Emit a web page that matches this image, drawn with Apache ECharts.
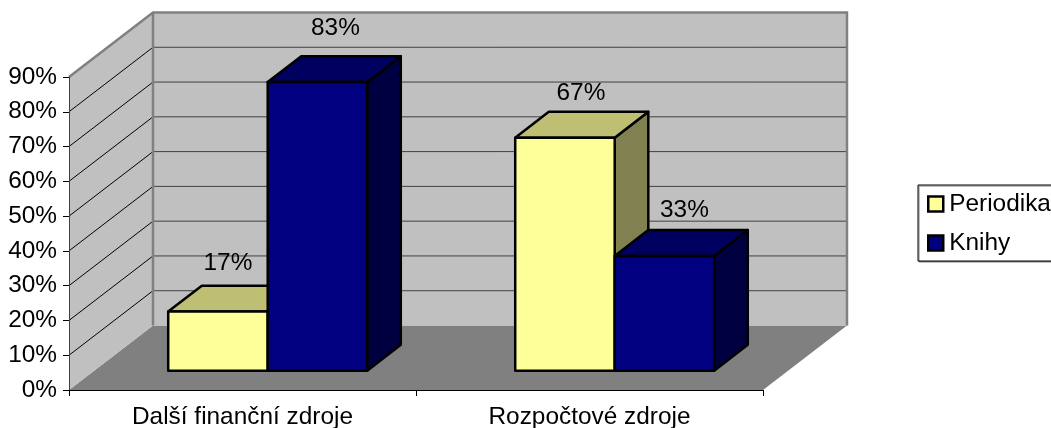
<!DOCTYPE html>
<html>
<head>
<meta charset="utf-8">
<style>
html,body{margin:0;padding:0;background:#fff;}
#chart{width:1051px;height:428px;}
</style>
</head>
<body>
<div id="chart"></div>
<script src="https://cdn.jsdelivr.net/npm/echarts@6/dist/echarts.min.js"></script>
<script>
var categories = ['Další finanční zdroje', 'Rozpočtové zdroje'];
var periodika = [17, 67];
var knihy = [83, 33];
var gridTicks = [10, 20, 30, 40, 50, 60, 70, 80];
var axisMax = 90;

// label nudges, [dx, dy] from the front top centre of a bar
var periodikaLabelShift = [[10, -48], [16, -44]];
var knihyLabelShift = [[18, -54], [20, -46]];

// fake 3d: how far the back wall sits from the front plane
var depthX = 84, depthY = -64.5;
var font = '"Liberation Sans", Arial, sans-serif';
var textSize = 24.4;

var chart = echarts.init(document.getElementById('chart'));

function drawWalls(params, api) {
    var band = api.size([1, 0])[0];
    var left = api.coord([0, 0])[0] - band / 2;
    var right = api.coord([1, 0])[0] + band / 2;
    var bottom = api.coord([0, 0])[1];
    var top = api.coord([0, axisMax])[1];
    var kids = [];
    // floor
    kids.push({type: 'polygon', shape: {points: [[left, bottom], [left + depthX, bottom + depthY], [right + depthX, bottom + depthY], [right, bottom]]},
        style: {fill: '#808080', stroke: null}});
    // back wall
    kids.push({type: 'polygon', shape: {points: [[left + depthX, top + depthY], [right + depthX, top + depthY], [right + depthX, bottom + depthY], [left + depthX, bottom + depthY]]},
        style: {fill: '#C0C0C0', stroke: null}});
    // side wall
    kids.push({type: 'polygon', shape: {points: [[left, top], [left + depthX, top + depthY], [left + depthX, bottom + depthY], [left, bottom]]},
        style: {fill: '#C0C0C0', stroke: null}});
    gridTicks.forEach(function (t) {
        var y = api.coord([0, t])[1];
        kids.push({type: 'line', shape: {x1: left, y1: y, x2: left + depthX, y2: y + depthY}, style: {stroke: '#000', lineWidth: 1}});
        kids.push({type: 'line', shape: {x1: left + depthX, y1: y + depthY, x2: right + depthX, y2: y + depthY}, style: {stroke: '#404040', lineWidth: 1}});
    });
    // grey edges of the walls
    kids.push({type: 'polyline', shape: {points: [[left, top], [left + depthX, top + depthY], [right + depthX, top + depthY], [right + depthX, bottom + depthY]]},
        style: {fill: null, stroke: '#808080', lineWidth: 2.5}});
    kids.push({type: 'line', shape: {x1: left + depthX, y1: top + depthY, x2: left + depthX, y2: bottom + depthY}, style: {stroke: '#808080', lineWidth: 2.5}});
    return {type: 'group', children: kids};
}

function barRenderer(side, front, topFace, sideFace, shifts) {
    return function (params, api) {
        var cat = api.value(0), val = api.value(1);
        var base = api.coord([cat, 0]);
        var tip = api.coord([cat, val]);
        var band = api.size([1, 0])[0];
        var w = band * 0.2867;
        var x0 = base[0] + depthX * 0.3 + (side < 0 ? -w : 0);
        var x1 = x0 + w;
        var yB = base[1] + depthY * 0.3;
        var yT = tip[1] + depthY * 0.3;
        var dx = depthX * 0.4, dy = depthY * 0.4;
        var edge = {stroke: '#000', lineWidth: 2.5, lineJoin: 'round'};
        var shift = shifts[params.dataIndex];
        return {type: 'group', children: [
            {type: 'polygon', shape: {points: [[x1, yT], [x1 + dx, yT + dy], [x1 + dx, yB + dy], [x1, yB]]},
                style: Object.assign({fill: sideFace}, edge)},
            {type: 'polygon', shape: {points: [[x0, yT], [x0 + dx, yT + dy], [x1 + dx, yT + dy], [x1, yT]]},
                style: Object.assign({fill: topFace}, edge)},
            {type: 'rect', shape: {x: x0, y: yT, width: w, height: yB - yT},
                style: Object.assign({fill: front}, edge)},
            {type: 'text', x: (x0 + x1) / 2 + shift[0], y: yT + shift[1], z2: 50,
                style: {text: val + '%', fill: '#000', font: textSize + 'px ' + font, align: 'center', verticalAlign: 'middle'}}
        ]};
    };
}

function pairs(values) {
    return values.map(function (v, i) { return [i, v]; });
}

var option = {
    backgroundColor: '#fff',
    animation: false,
    textStyle: {fontFamily: font},
    legend: {
        left: 918, top: 185,
        orient: 'vertical',
        align: 'left',
        padding: [7, 30, 6, 9],
        itemWidth: 15, itemHeight: 15,
        itemGap: 15,
        borderColor: '#000', borderWidth: 1,
        shadowColor: '#808080', shadowOffsetX: 1, shadowOffsetY: 1, shadowBlur: 0,
        backgroundColor: '#fff',
        textStyle: {fontSize: textSize, fontFamily: font, color: '#000', padding: [0, 0, 0, 1]},
        data: [
            {name: 'Periodika', icon: 'rect', itemStyle: {color: '#FFFF99', borderColor: '#000', borderWidth: 2.5}},
            {name: 'Knihy', icon: 'rect', itemStyle: {color: '#000080', borderColor: '#000', borderWidth: 2.5}}
        ]
    },
    grid: {left: 69, right: 288, top: 77, bottom: 38, outerBoundsMode: 'none'},
    xAxis: {
        type: 'category', data: categories, z: 10,
        axisLine: {lineStyle: {color: '#000', width: 1}},
        axisTick: {show: true, length: 6, lineStyle: {color: '#000'}},
        axisLabel: {fontSize: textSize, color: '#000', fontFamily: font, margin: 15, interval: 0}
    },
    yAxis: {
        type: 'value', min: 0, max: axisMax, interval: 10, z: 10,
        splitLine: {show: false},
        axisLine: {show: true, lineStyle: {color: '#404040', width: 1}},
        axisTick: {show: true, length: 6, lineStyle: {color: '#000'}},
        axisLabel: {fontSize: textSize, color: '#000', fontFamily: font, margin: 12, padding: [0, 0, 3, 0], formatter: '{value}%'}
    },
    series: [
        {name: 'walls', type: 'custom', data: [[0, 0]], renderItem: drawWalls, silent: true, z: 1},
        {name: 'Periodika', type: 'custom', data: pairs(periodika), z: 2,
            itemStyle: {color: '#FFFF99'},
            renderItem: barRenderer(-1, '#FFFF99', '#BFBF73', '#808050', periodikaLabelShift)},
        {name: 'Knihy', type: 'custom', data: pairs(knihy), z: 3,
            itemStyle: {color: '#000080'},
            renderItem: barRenderer(1, '#000080', '#000060', '#000040', knihyLabelShift)}
    ]
};
chart.setOption(option);
</script>
</body>
</html>
